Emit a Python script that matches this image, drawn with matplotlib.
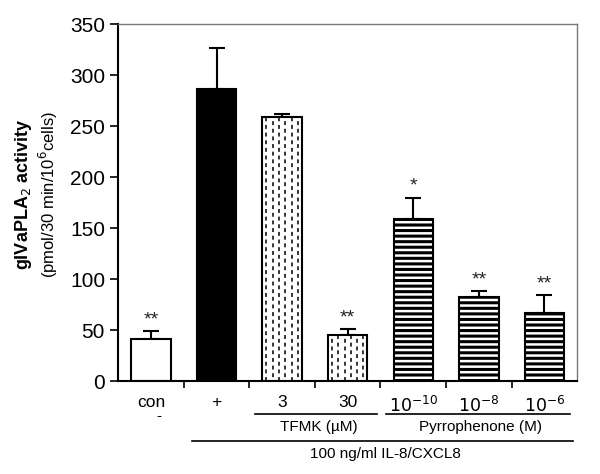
import matplotlib.pyplot as plt
import numpy as np

plt.rcParams['font.family'] = ['Liberation Sans', 'DejaVu Sans']
plt.rcParams['hatch.linewidth'] = 2.2

labels = ['con', '+', '3', '30', '$10^{-10}$', '$10^{-8}$', '$10^{-6}$']
values = [41, 286, 259, 45, 159, 82, 67]
errors = [8, 41, 3, 6, 21, 6, 17]
stars = ['**', '', '', '**', '*', '**', '**']
kinds = ['open', 'solid', 'dash', 'dash', 'stripe', 'stripe', 'stripe']

fig = plt.figure(figsize=(6, 4.74), dpi=100)
ax = fig.add_axes([0.197, 0.196, 0.765, 0.753])

x = np.arange(len(values))
face = {'open': 'white', 'solid': 'black', 'dash': 'white', 'stripe': 'white'}

bars = ax.bar(x, values, width=0.6, color=[face[k] for k in kinds],
              edgecolor='black', linewidth=1.5, zorder=2)
for b, k in zip(bars, kinds):
    if k == 'stripe':
        b.set_hatch('---')
    if k == 'dash':
        # dashed vertical pattern of the TFMK bars
        x0 = b.get_x()
        w = b.get_width()
        for i, xi in enumerate(np.linspace(x0 + w * 0.1, x0 + w * 0.9, 6)):
            off = 0 if i % 2 == 0 else 2.5
            ln, = ax.plot([xi, xi], [0, b.get_height()], color='black',
                          lw=1.1, zorder=2.5, linestyle=(off, (2.6, 2.4)))
            ln.set_clip_path(b)

ax.errorbar(x, values, yerr=[np.zeros(len(errors)), errors], fmt='none',
            ecolor='black', elinewidth=1.5, capsize=6, capthick=1.5, zorder=1)

for xi, v, e, s in zip(x, values, errors, stars):
    if s:
        ax.text(xi, v + e + 3, s, ha='center', va='bottom', fontsize=14,
                color='#222222')

ax.set_xlim(-0.5, 6.5)
ax.set_ylim(0, 350)
ax.set_yticks(range(0, 351, 50))
ax.tick_params(axis='y', labelsize=15, direction='out', length=6, width=1.2)
ax.set_xticks(np.arange(0.5, 6, 1))
ax.set_xticklabels([])
ax.tick_params(axis='x', direction='out', length=5, width=1.2)

for s in ['left', 'bottom']:
    ax.spines[s].set_linewidth(1.5)
for s in ['top', 'right']:
    ax.spines[s].set_color('#777777')
    ax.spines[s].set_linewidth(1.0)

trans = ax.get_xaxis_transform()
for xi, lab in zip(x, labels):
    ax.text(xi, -0.04, lab, transform=trans, ha='center', va='top',
            fontsize=12.5)
ax.text(0.12, -0.098, '-', transform=trans, ha='center', va='center',
        fontsize=11)

# group lines under the axis
line_kw = dict(transform=trans, color='black', lw=1.2, clip_on=False)
ax.plot([1.59, 3.45], [-0.092, -0.092], **line_kw)
ax.text(2.56, -0.108, 'TFMK (\u00b5M)', transform=trans, ha='center', va='top',
        fontsize=11)
ax.plot([3.59, 6.39], [-0.092, -0.092], **line_kw)
ax.text(5.02, -0.108, 'Pyrrophenone (M)', transform=trans, ha='center',
        va='top', fontsize=11)
ax.plot([0.63, 6.44], [-0.168, -0.168], **line_kw)
ax.text(3.57, -0.185, '100 ng/ml IL-8/CXCL8', transform=trans, ha='center',
        va='top', fontsize=11)

fig.text(0.04, 0.59, 'gIVaPLA$_2$ activity', rotation=90, ha='center',
         va='center', fontsize=13, fontweight='bold')
fig.text(0.08, 0.59, '(pmol/30 min/10$^6$cells)', rotation=90, ha='center',
         va='center', fontsize=12)

fig.savefig('out.png', dpi=100)
